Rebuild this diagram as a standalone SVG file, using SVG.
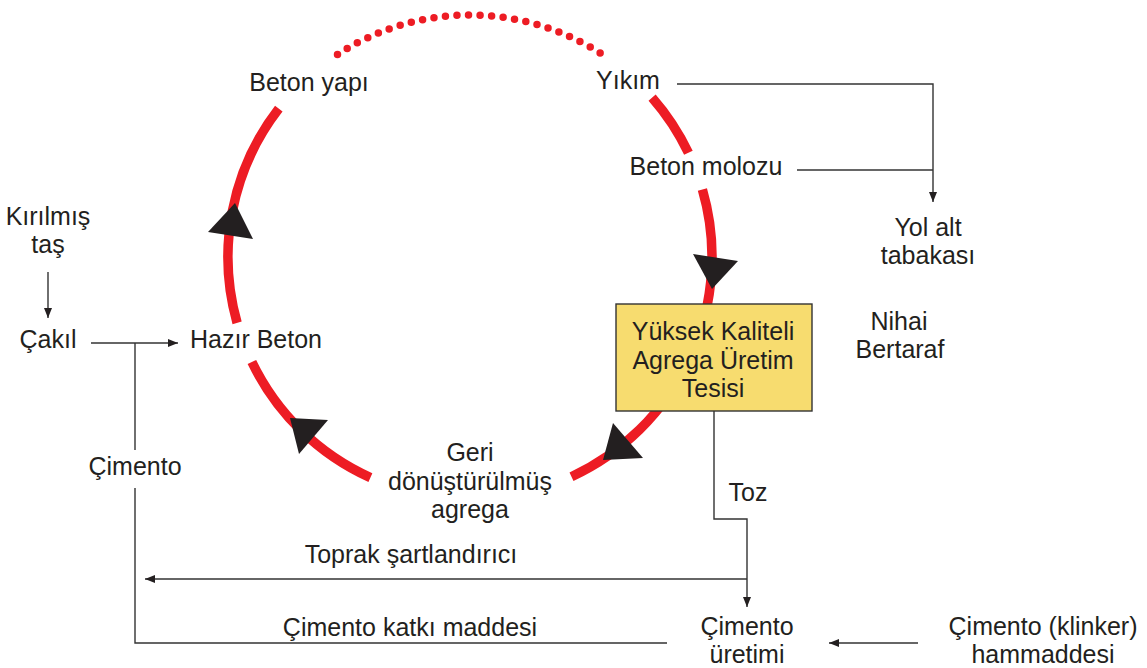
<svg xmlns="http://www.w3.org/2000/svg" width="1147" height="668" viewBox="0 0 1147 668">
  <defs>
    <style>
      .lbl { font-family: "Liberation Sans", Arial, sans-serif; font-size: 25px; fill: #231F20; text-anchor: middle; }
      .cycle { fill: none; stroke: #ED1C24; stroke-width: 9.5; stroke-linecap: butt; }
      .dots { fill: none; stroke: #ED1C24; stroke-width: 7.5; stroke-linecap: round; stroke-dasharray: 0 11.556; }
      .head { fill: #231F20; }
      .link { fill: none; stroke: #333333; stroke-width: 1.4; }
      .box { fill: #F7DC6F; stroke: #333333; stroke-width: 1.4; }
    </style>
    <marker id="tip" viewBox="0 0 10 8" refX="10" refY="4" markerWidth="10" markerHeight="8" markerUnits="userSpaceOnUse" orient="auto">
      <path d="M0,0 L10,4 L0,8 Z" fill="#231F20"/>
    </marker>
  </defs>

  <!-- recycling loop: circle centre (470,257), r 242 -->
  <g id="cycle">
    <path class="dots" d="M 337.5 54.5 A 242 242 0 0 1 609.5 59.3"/>
    <path class="cycle" d="M 652.1 97.6 A 242 242 0 0 1 688.4 152.8"/>
    <path class="cycle" d="M 702.4 189.5 A 242 242 0 0 1 571.5 476.7"/>
    <path class="cycle" d="M 370.4 477.6 A 242 242 0 0 1 251.9 362.0"/>
    <path class="cycle" d="M 237.1 322.9 A 242 242 0 0 1 278.8 108.7"/>
    <polygon class="head" points="235,203 208,232 253,239"/>
    <polygon class="head" points="712,289 693,254 738,261"/>
    <polygon class="head" points="603,460 613,423 643,458"/>
    <polygon class="head" points="290,418 328,420 299,454"/>
  </g>

  <!-- connectors -->
  <g id="connectors">
    <path class="link" d="M 677 84 H 933 V 202" marker-end="url(#tip)"/>
    <path class="link" d="M 797 170 H 933"/>
    <path class="link" d="M 48 272 V 318" marker-end="url(#tip)"/>
    <path class="link" d="M 91 343 H 178" marker-end="url(#tip)"/>
    <path class="link" d="M 135 343 V 450"/>
    <path class="link" d="M 135 488 V 643 H 667"/>
    <path class="link" d="M 714 411 V 519 H 747 V 607" marker-end="url(#tip)"/>
    <path class="link" d="M 747 579 H 145" marker-end="url(#tip)"/>
    <path class="link" d="M 918 643 H 829" marker-end="url(#tip)"/>
  </g>

  <g id="node-beton-yapi"><text class="lbl" x="309" y="91">Beton yapı</text></g>
  <g id="node-yikim"><text class="lbl" x="628" y="89">Yıkım</text></g>
  <g id="node-beton-molozu"><text class="lbl" x="706" y="175">Beton molozu</text></g>
  <g id="node-yol-alt">
    <text class="lbl" x="928" y="236">Yol alt<tspan x="928" dy="28">tabakası</tspan></text>
  </g>
  <g id="node-nihai">
    <text class="lbl" x="899" y="330">Nihai<tspan x="900" dy="28">Bertaraf</tspan></text>
  </g>
  <g id="node-tesis">
    <rect class="box" x="616" y="304" width="196" height="107"/>
    <text class="lbl" x="713" y="340">Yüksek Kaliteli<tspan x="713" dy="29">Agrega Üretim</tspan><tspan x="713" dy="28">Tesisi</tspan></text>
  </g>
  <g id="node-kirilmis-tas">
    <text class="lbl" x="48" y="225">Kırılmış<tspan x="48" dy="28">taş</tspan></text>
  </g>
  <g id="node-cakil"><text class="lbl" x="48" y="348">Çakıl</text></g>
  <g id="node-hazir-beton"><text class="lbl" x="256" y="348">Hazır Beton</text></g>
  <g id="node-cimento"><text class="lbl" x="135" y="475">Çimento</text></g>
  <g id="node-geri-agrega">
    <text class="lbl" x="470" y="461">Geri<tspan x="470" dy="29">dönüştürülmüş</tspan><tspan x="470" dy="28">agrega</tspan></text>
  </g>
  <g id="node-toz"><text class="lbl" x="748" y="501">Toz</text></g>
  <g id="node-toprak"><text class="lbl" x="411" y="563">Toprak şartlandırıcı</text></g>
  <g id="node-katki"><text class="lbl" x="410" y="636">Çimento katkı maddesi</text></g>
  <g id="node-cimento-uretimi">
    <text class="lbl" x="747" y="635">Çimento<tspan x="747" dy="28">üretimi</tspan></text>
  </g>
  <g id="node-klinker">
    <text class="lbl" x="1043" y="635">Çimento (klinker)<tspan x="1043" dy="28">hammaddesi</tspan></text>
  </g>
</svg>
